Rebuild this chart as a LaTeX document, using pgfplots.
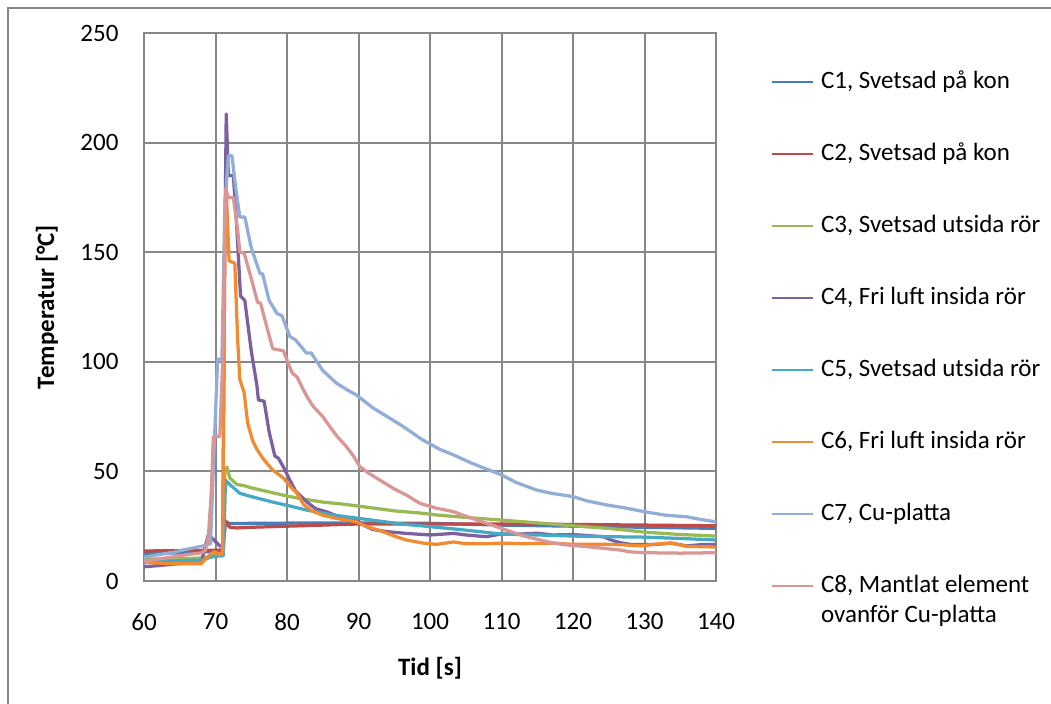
\documentclass[border=0pt]{standalone}
\usepackage{fontspec}
\setmainfont{Carlito}
\usepackage{pgfplots}
\pgfplotsset{compat=1.18}

\definecolor{cA}{HTML}{4A7EBB}
\definecolor{cB}{HTML}{BE4B48}
\definecolor{cC}{HTML}{98B954}
\definecolor{cD}{HTML}{7D60A0}
\definecolor{cE}{HTML}{46AAC5}
\definecolor{cF}{HTML}{F28A30}
\definecolor{cG}{HTML}{92AED8}
\definecolor{cH}{HTML}{D99694}
\definecolor{gridg}{HTML}{878787}

\begin{document}
\begin{tikzpicture}[x=0.4pt,y=0.4pt]
\useasboundingbox (0,0) rectangle (1051,704);
\draw[gridg, line width=0.5pt] (8,0) -- (8,696) -- (1051,696);
\begin{axis}[
  at={(57.6pt,49.2pt)}, anchor=south west,
  scale only axis,
  width=228.8pt, height=219.2pt,
  xmin=60, xmax=140, ymin=0, ymax=250,
  xtick={60,70,...,140}, ytick={0,50,...,250},
  grid=major,
  grid style={gridg, line width=0.8pt},
  axis line style={gridg, line width=0.8pt},
  major tick length=0pt,
  /pgf/number format/assume math mode=true,
  tick label style={font=\fontsize{10}{12}\selectfont},
  xticklabel style={anchor=north, inner sep=0pt, yshift=-12.8pt},
  yticklabel style={anchor=east, inner sep=0pt, xshift=-10pt},
  xlabel={Tid [s]}, ylabel={Temperatur [°C]},
  label style={font=\bfseries\fontsize{10}{12}\selectfont},
  xlabel style={at={(axis description cs:0.5,-0.159)}, anchor=center},
  ylabel style={at={(axis description cs:-0.1696,0.5)}, anchor=center},
  legend style={draw=none, fill=none, font=\fontsize{10}{12}\selectfont,
    at={(axis description cs:1.0944,0.9316)}, anchor=north west,
    inner sep=0pt, row sep=19.8pt, column sep=2.8pt,
    nodes={inner sep=0pt, text height=7pt, text depth=2pt}},
  legend cell align=left,
  legend image code/.code={\draw[#1, line width=1pt] (0pt,0pt) -- (16.4pt,0pt);},
  every axis plot/.append style={line width=1.3pt, line join=round},
]
\addplot[cA] coordinates {(60,12.6) (65,12.8) (68,13.2) (70,13.5) (71.0,13.8) (71.4,27) (72,26.2) (75,26.3) (80,26.4) (90,26.5) (100,26.3) (105,25.9) (110,25.5) (120,25) (130,24.5) (140,24)};
\addlegendentry{C1, Svetsad på kon}
\addplot[cB] coordinates {(60,13.7) (70,14) (71.0,14.2) (71.4,27.5) (72,24.5) (73,24.2) (75,24.5) (80,25) (85,25.5) (90,26) (100,26) (110,26) (120,25.8) (130,25.5) (140,25.2)};
\addlegendentry{C2, Svetsad på kon}
\addplot[cC] coordinates {(60,10) (66,10.2) (68,10.5) (69,11) (70,12.5) (71,12.5) (71.3,50) (71.6,52) (72,47) (73,44) (74,43.5) (75,42.5) (77,41) (79,39.5) (80.4,38.5) (82,37.5) (85,36) (88,35) (92,33.3) (95,32) (98.6,31) (101,30.1) (105,29) (110,27.8) (115,26.5) (120,25.2) (125,24) (130,22.3) (135,21.2) (140,20.5)};
\addlegendentry{C3, Svetsad utsida rör}
\addplot[cD] coordinates {(60,6.5) (62,7) (64.8,7.9) (66,8) (68,8.3) (68.5,15) (69,21) (69.7,19) (70.6,16) (71,16) (71.3,150) (71.5,213) (71.8,185) (72.5,185) (73,160) (73.5,130) (74.1,128) (75,105) (75.8,89) (76,82.6) (76.8,82) (77.5,68) (78.3,57) (78.8,56) (79.5,52) (80.4,46) (81.2,41) (82.8,36) (84,33) (85.5,31.6) (87.5,29) (89.7,27.8) (91,25) (92,23.5) (94,22.5) (96.7,21.7) (100,21) (103.3,21.7) (105,21) (107.9,20.2) (110,21.5) (112.6,21.4) (115,21.8) (117.2,21) (120,21.2) (124.2,20.2) (125.5,18.5) (126.6,17.5) (128,16.7) (131.3,16.6) (133.7,17.3) (135.9,16) (138,16.6) (140,16.6)};
\addlegendentry{C4, Fri luft insida rör}
\addplot[cE] coordinates {(60,8.8) (65,9.2) (68,9.5) (69.5,11) (70.5,11.4) (71.1,11.5) (71.4,46) (72,44) (73.4,40) (75,38.5) (78,36) (80,34.5) (82.7,32.4) (86,30.3) (89.7,28.7) (93,27.3) (96,26) (100,24.8) (105,23.2) (110,21.4) (115,21) (120,20.5) (125,20.2) (130,20) (135,19.4) (140,18.7)};
\addlegendentry{C5, Svetsad utsida rör}
\addplot[cF] coordinates {(60,8.5) (64,7.9) (68,7.9) (68.6,10) (69.2,11.9) (69.9,13.4) (70.6,11.9) (71.0,13) (71.3,150) (71.5,178) (71.9,146) (72.7,145) (73.1,110) (73.4,92) (74,86) (74.5,72) (75.2,64) (75.8,60) (76.7,55.6) (78,50.6) (79.5,47) (80.5,43) (81.4,40) (82.3,35) (83.5,32) (85,30) (87,28.5) (89.7,27) (91,25) (93,23) (95,20.5) (96.7,18.7) (99,17.3) (100.9,16.7) (103.3,17.8) (105,17) (108,17) (110,17.3) (113,17) (117.2,17.3) (120,16.7) (124,16.8) (127,16.5) (129.5,16) (131.5,16.8) (133.7,17.3) (135.9,15.8) (140,15.5)};
\addlegendentry{C6, Fri luft insida rör}
\addplot[cG] coordinates {(60,10.9) (62,12) (64,13) (66,14.5) (68.3,16) (69.3,17) (69.8,60) (70.3,101) (70.9,101.5) (71.3,170) (71.8,194) (72.3,194) (72.8,180) (73.4,166) (74.1,166) (75,152) (76.2,140.5) (76.6,140) (77.5,128) (78.6,122) (79.3,121) (80.4,111.5) (81.2,110) (82.7,104) (83.4,104) (85,96) (86.9,90.3) (88.5,87) (89.7,84.9) (92,79) (94.4,74.2) (96,71) (99,64.3) (101.4,60) (103.3,57.5) (106,53.5) (110,48.4) (112,45) (114.9,41.5) (117,40) (120,38.5) (122,36.5) (124.7,34.7) (127,33.5) (130,31.6) (133,30) (135.9,29.3) (138,28) (140,27)};
\addlegendentry{C7, Cu-platta}
\addplot[cH] coordinates {(60,8.8) (62,10) (64,11) (66,12) (68,12.8) (68.6,14) (69,20.2) (69.4,40) (69.7,65.8) (70.6,66) (71.0,100) (71.4,179) (71.8,175) (72.5,175) (73.1,160) (73.4,150) (74,149.6) (75,138) (75.9,127) (76.3,126.8) (77,118) (78,106) (79.5,105) (80.7,95) (81.4,93) (82.8,84) (83.7,79.5) (85,75) (86,70.4) (87,66) (88.3,61.3) (89.3,57) (90.2,52.1) (91.5,49) (93,46) (95,42) (96.7,39.2) (98.6,35.4) (100.9,33.2) (103.3,31.6) (105.5,29) (107.9,26.3) (110,24) (112.6,21) (115,19) (117.2,17.3) (119.5,16.3) (121.9,15.7) (124,15) (126.6,14.1) (128,13.3) (130,12.9) (135,12.7) (140,12.9)};
\addlegendentry{\begin{tabular}[t]{@{}l@{}}C8, Mantlat element\\ovanför Cu-platta\end{tabular}}
\end{axis}
\end{tikzpicture}
\end{document}
